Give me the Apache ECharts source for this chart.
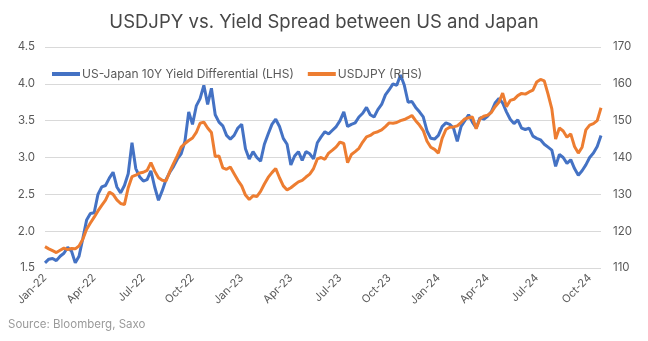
<!DOCTYPE html>
<html>
<head>
<meta charset="utf-8">
<script src="https://cdn.jsdelivr.net/npm/echarts@6/dist/echarts.min.js"></script>
<style>
html,body{margin:0;padding:0;background:#fff;}
#chart{width:648px;height:341px;}
</style>
</head>
<body>
<div id="chart"></div>
<script>
// Weekly observations starting Monday 3 Jan 2022
const startDate = '2022-01-03';
const weekCount = 148;

// US-Japan 10Y yield differential (LHS, %)
const spreadValues = [
  1.57,1.62,1.63,1.60,1.66,1.70,1.78,1.73,1.57,1.66,
  1.90,2.15,2.24,2.25,2.50,2.60,2.62,2.72,2.80,2.60,
  2.52,2.62,2.78,3.20,2.85,2.74,2.68,2.70,2.82,2.60,
  2.42,2.55,2.70,2.80,2.88,2.98,3.05,3.22,3.62,3.45,
  3.70,3.80,3.98,3.72,3.94,3.58,3.48,3.43,3.30,3.25,
  3.30,3.40,3.45,3.12,2.98,3.08,3.00,2.95,3.18,3.32,
  3.45,3.52,3.42,3.26,3.18,2.90,3.02,3.08,2.96,3.08,
  3.05,2.98,3.20,3.28,3.35,3.32,3.37,3.42,3.50,3.62,
  3.42,3.45,3.47,3.55,3.60,3.68,3.58,3.55,3.65,3.72,
  3.85,3.92,4.00,3.98,4.12,3.98,3.75,3.76,3.68,3.62,
  3.55,3.36,3.26,3.25,3.30,3.42,3.47,3.45,3.40,3.22,
  3.42,3.50,3.58,3.48,3.40,3.54,3.52,3.56,3.62,3.74,
  3.80,3.74,3.62,3.52,3.46,3.51,3.40,3.38,3.40,3.29,
  3.26,3.24,3.18,3.14,3.10,2.88,3.04,3.00,2.92,2.97,
  2.85,2.76,2.82,2.90,3.00,3.06,3.15,3.30
];

// USDJPY (RHS)
const usdjpyValues = [
  115.8,115.2,114.7,114.2,114.8,115.4,115.0,115.3,115.2,116.0,
  117.8,120.5,122.2,123.8,125.5,127.0,128.4,130.6,130.0,128.5,
  127.5,127.2,131.8,134.8,135.2,135.8,136.0,136.5,138.6,136.3,
  134.5,133.8,133.6,136.2,138.4,140.5,142.8,143.8,144.6,145.3,
  146.8,149.3,149.6,148.0,146.8,140.3,140.4,137.2,136.8,137.4,
  135.6,133.8,132.3,129.8,128.6,129.6,129.4,130.8,132.8,134.6,
  135.9,137.0,134.5,132.3,131.2,131.8,132.6,133.4,133.8,134.7,
  135.5,137.0,139.6,140.0,139.5,141.2,142.0,142.9,144.2,143.8,
  138.6,140.8,141.6,142.5,144.2,145.6,146.0,146.7,147.0,147.5,
  148.4,149.4,149.3,149.5,150.0,150.3,150.8,151.4,150.0,148.8,
  147.3,144.4,142.8,142.2,141.2,145.2,147.6,148.2,148.3,148.6,
  149.5,150.5,150.8,151.0,147.8,150.5,151.2,151.5,152.2,153.8,
  155.0,157.5,153.8,155.5,155.8,156.8,157.4,157.2,157.8,158.3,
  160.5,161.2,160.8,157.2,153.2,145.0,148.0,147.2,145.5,146.4,
  143.0,141.2,142.8,147.5,148.8,149.2,150.0,153.5
];

const seriesNames = ['US-Japan 10Y Yield Differential (LHS)', 'USDJPY (RHS)'];
const labelMonths = [0, 3, 6, 9]; // Jan, Apr, Jul, Oct
const monthNames = ['Jan','Feb','Mar','Apr','May','Jun','Jul','Aug','Sep','Oct','Nov','Dec'];

// build weekly date categories
const categories = [];
{
  const d0 = new Date(startDate + 'T00:00:00Z');
  for (let i = 0; i < weekCount; i++) {
    const d = new Date(d0.getTime() + i * 7 * 86400000);
    categories.push(d.toISOString().slice(0, 10));
  }
}

function isQuarterLabel(idx, val) {
  const d = new Date(val + 'T00:00:00Z');
  return labelMonths.indexOf(d.getUTCMonth()) >= 0 && d.getUTCDate() <= 7;
}
function fmtLabel(val) {
  const d = new Date(val + 'T00:00:00Z');
  return monthNames[d.getUTCMonth()] + '-' + String(d.getUTCFullYear()).slice(2);
}

const FONT = 'Inter, "Noto Sans", sans-serif';
const chart = echarts.init(document.getElementById('chart'), null, {renderer: 'canvas'});
chart.setOption({
  animation: false,
  backgroundColor: '#ffffff',
  title: {
    text: 'USDJPY vs. Yield Spread between US and Japan',
    left: 'center',
    top: 8,
    textStyle: {fontFamily: FONT, fontSize: 18.5, fontWeight: 'normal', color: '#474747'}
  },
  graphic: [{
    type: 'text',
    left: 8,
    top: 319,
    style: {text: 'Source: Bloomberg, Saxo', fontFamily: FONT, fontSize: 11.5, fill: '#9a9a9a'}
  }],
  legend: {
    left: 47,
    top: 63,
    icon: 'rect',
    itemWidth: 28,
    itemHeight: 4,
    itemGap: 14,
    textStyle: {fontFamily: FONT, fontSize: 12, color: '#595959', padding: [0, 0, 0, -3]},
    data: seriesNames
  },
  grid: {left: 45, right: 47, top: 47, bottom: 73, containLabel: false},
  xAxis: {
    type: 'category',
    data: categories,
    boundaryGap: false,
    axisLine: {show: false},
    axisTick: {show: false},
    splitLine: {show: false},
    axisLabel: {
      interval: isQuarterLabel,
      formatter: fmtLabel,
      rotate: 45,
      margin: 8,
      fontFamily: FONT,
      fontSize: 11,
      color: '#595959'
    }
  },
  yAxis: [{
    type: 'value',
    min: 1.5, max: 4.5, interval: 0.5,
    axisLine: {show: false},
    axisTick: {show: false},
    splitLine: {lineStyle: {color: '#d9d9d9', width: 1}},
    axisLabel: {
      formatter: v => v.toFixed(1),
      margin: 10,
      fontFamily: FONT, fontSize: 11.5, color: '#595959'
    }
  }, {
    type: 'value',
    min: 110, max: 170, interval: 10,
    position: 'right',
    axisLine: {show: false},
    axisTick: {show: false},
    splitLine: {show: false},
    axisLabel: {margin: 12, fontFamily: FONT, fontSize: 11.5, color: '#595959'}
  }],
  series: [{
    name: seriesNames[0],
    type: 'line',
    yAxisIndex: 0,
    data: spreadValues,
    showSymbol: false,
    symbol: 'none',
    lineStyle: {color: '#4472C4', width: 3},
    itemStyle: {color: '#4472C4'}
  }, {
    name: seriesNames[1],
    type: 'line',
    yAxisIndex: 1,
    data: usdjpyValues,
    showSymbol: false,
    symbol: 'none',
    lineStyle: {color: '#ED7D31', width: 3},
    itemStyle: {color: '#ED7D31'}
  }]
});
</script>
</body>
</html>
